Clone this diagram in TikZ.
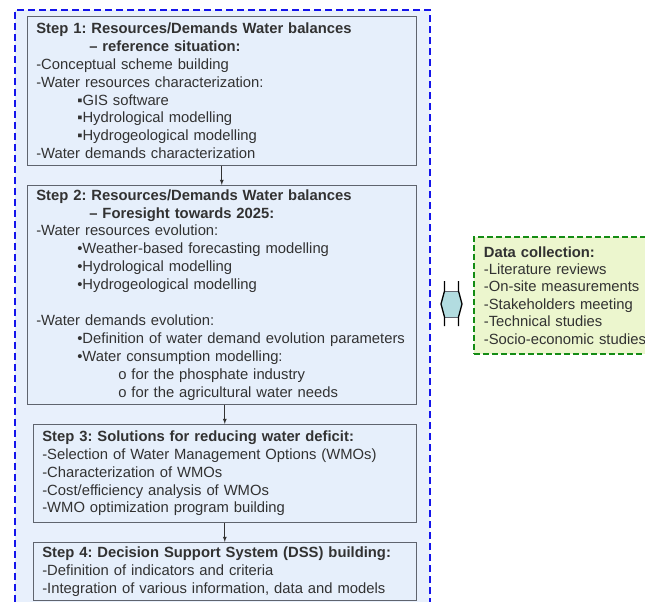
\documentclass[tikz,border=0pt]{standalone}
\usepackage{fontspec}
\setmainfont{Liberation Sans}
\frenchspacing
\definecolor{outerblue}{RGB}{20,20,235}
\definecolor{outerfill}{RGB}{232,240,252}
\definecolor{stepfill}{RGB}{230,239,251}
\definecolor{boxgray}{RGB}{95,100,110}
\definecolor{textgray}{RGB}{50,50,50}
\definecolor{datagreen}{RGB}{20,140,20}
\definecolor{datafill}{RGB}{236,246,206}
\definecolor{linkfill}{RGB}{178,220,224}
\begin{document}
\begin{tikzpicture}[x=1pt, y=-1pt,
stepnode/.style={anchor=north west, rectangle, draw=boxgray, fill=stepfill, line width=0.6pt, text=textgray, align=left, inner xsep=9pt, inner ysep=0pt, font=\fontsize{14.8}{17.9}\selectfont},
datanode/.style={anchor=north west, rectangle, draw=datagreen, fill=datafill, line width=1.8pt, dash pattern=on 6pt off 3pt, text=textgray, align=left, inner xsep=10pt, inner ysep=0pt, font=\fontsize{14.8}{17.4}\selectfont},
linkline/.style={draw=black, line width=1.3pt, line join=miter},
flowarrow/.style={draw=textgray, line width=0.8pt, -latex},]

\clip (0,0) rectangle (645,602);

\node (outer) [anchor=north west, rectangle, draw=outerblue, fill=outerfill, line width=1.8pt, dash pattern=on 7pt off 4pt, minimum width=415pt, minimum height=620pt] at (14,9) {};

\node (stepA) [stepnode, minimum width=389pt, minimum height=149pt, text width=371pt] at (27,16) {\textbf{Step 1: Resources/Demands Water balances}\\
\hspace*{53pt}\textbf{– reference situation:}\\
-Conceptual scheme building\\
-Water resources characterization:\\
\hspace*{41pt}▪GIS software\\
\hspace*{41pt}▪Hydrological modelling\\
\hspace*{41pt}▪Hydrogeological modelling\\
-Water demands characterization};

\node (stepB) [stepnode, minimum width=389pt, minimum height=219pt, text width=371pt] at (27,185) {\textbf{Step 2: Resources/Demands Water balances}\\
\hspace*{53pt}\textbf{– Foresight towards 2025:}\\
-Water resources evolution:\\
\hspace*{41pt}•Weather-based forecasting modelling\\
\hspace*{41pt}•Hydrological modelling\\
\hspace*{41pt}•Hydrogeological modelling\\[17.9pt]
-Water demands evolution:\\
\hspace*{41pt}•Definition of water demand evolution parameters\\
\hspace*{41pt}•Water consumption modelling:\\
\hspace*{82pt}o for the phosphate industry\\
\hspace*{82pt}o for the agricultural water needs};

\node (stepC) [stepnode, minimum width=383pt, minimum height=98pt, text width=365pt] at (33,424) {\textbf{Step 3: Solutions for reducing water deficit:}\\
-Selection of Water Management Options (WMOs)\\
-Characterization of WMOs\\
-Cost/efficiency analysis of WMOs\\
-WMO optimization program building};

\node (stepD) [stepnode, minimum width=383pt, minimum height=58pt, text width=365pt] at (33,542) {\textbf{Step 4: Decision Support System (DSS) building:}\\
-Definition of indicators and criteria\\
-Integration of various information, data and models};

\node (data) [datanode, minimum width=185pt, minimum height=117pt, text width=165pt] at (473,236) {\textbf{Data collection:}\\
-Literature reviews\\
-On-site measurements\\
-Stakeholders meeting\\
-Technical studies\\
-Socio-economic studies};

\draw[flowarrow] (stepA.south) -- (stepB.north);
\draw[flowarrow] (stepC.north |- stepB.south) -- (stepC.north);
\draw[flowarrow] (stepC.south) -- (stepD.north);

\fill[linkfill] (444.5,291) -- (458.5,291) -- (462,304) -- (458.5,317) -- (444.5,317) -- (441,304) -- cycle;
\draw[boxgray, line width=0.4pt] (444.5,291) -- (458.5,291) (444.5,317) -- (458.5,317);
\draw[linkline] (444.5,281) -- (444.5,291) -- (441,304) -- (444.5,317) -- (444.5,326);
\draw[linkline] (458.5,281) -- (458.5,291) -- (462,304) -- (458.5,317) -- (458.5,326);

\end{tikzpicture}
\end{document}
